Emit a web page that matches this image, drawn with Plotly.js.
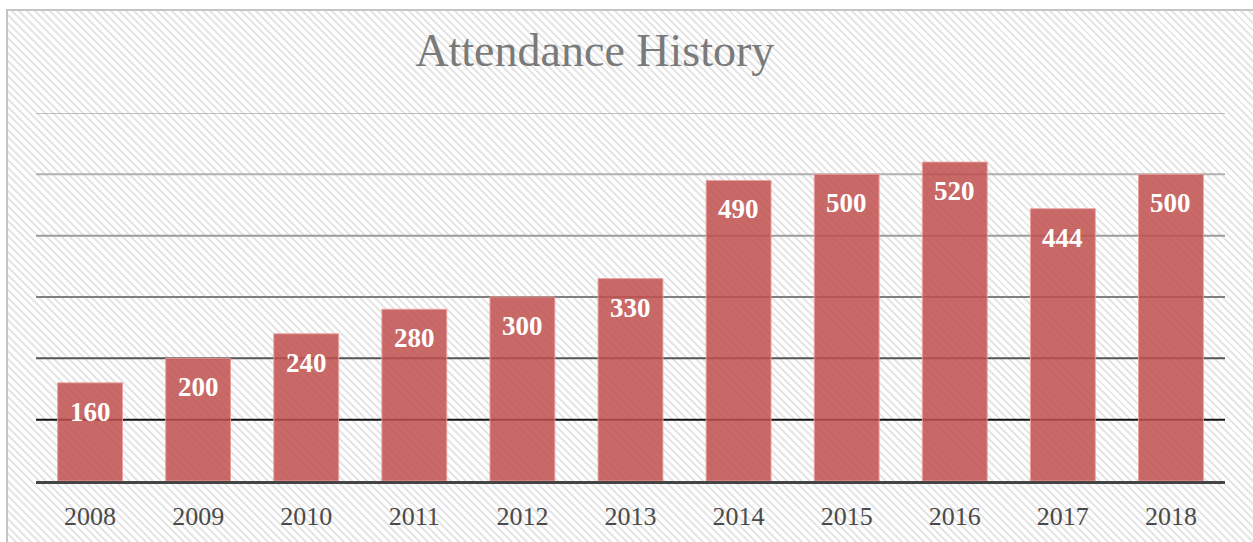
<!DOCTYPE html>
<html>
<head>
<meta charset="utf-8">
<script src="https://cdn.plot.ly/plotly-3.0.1.min.js"></script>
<style>
  html, body { margin: 0; padding: 0; background: #ffffff; overflow: hidden; }
  #bg {
    position: absolute; left: 6px; top: 9px; width: 1260px; height: 560px;
    border-left: 2px solid #c4c4c4; border-top: 2px solid #c4c4c4;
    background: repeating-linear-gradient(45deg, #ffffff 0px, #ffffff 3.3px, #e6e6e6 3.3px, #e6e6e6 5.4px);
  }
  #chart { position: absolute; left: 0; top: 0; width: 1253px; height: 542px; }
</style>
</head>
<body>
<div id="bg"></div>
<div id="chart"></div>
<script>
const years = ['2008','2009','2010','2011','2012','2013','2014','2015','2016','2017','2018'];
const attendance = [160, 200, 240, 280, 300, 330, 490, 500, 520, 444, 500];
const gridValues = [100, 200, 300, 400, 500, 600];
const gridColors = ['#151515', '#555555', '#808080', '#9c9c9c', '#b0b0b0', '#bdbdbd'];

const serif = 'Liberation Serif, DejaVu Serif, serif';

const trace = {
  type: 'bar',
  x: years,
  y: attendance,
  marker: { color: 'rgba(192,80,77,0.85)', line: { color: 'rgba(235,160,160,0.9)', width: 1 } },
  hoverinfo: 'none'
};

const shapes = gridValues.map((v, i) => ({
  type: 'line', xref: 'paper', yref: 'y', x0: 0, x1: 1, y0: v, y1: v,
  line: { color: gridColors[i], width: 2 }, layer: 'below'
}));

const annotations = years.map((yr, i) => ({
  x: i, y: attendance[i], xref: 'x', yref: 'y',
  text: '<b>' + attendance[i] + '</b>', showarrow: false,
  yanchor: 'middle', yshift: -29,
  font: { family: serif, size: 27, color: '#ffffff' }
}));

const layout = {
  width: 1253, height: 542,
  margin: { l: 36, r: 28, t: 113, b: 61 },
  paper_bgcolor: 'rgba(0,0,0,0)',
  plot_bgcolor: 'rgba(0,0,0,0)',
  title: {
    text: 'Attendance History',
    font: { family: serif, size: 46, color: '#7a7a7a' },
    xref: 'paper', x: 0.47, xanchor: 'center',
    yref: 'container', y: 0.908, yanchor: 'middle'
  },
  bargap: 0.4,
  showlegend: false,
  xaxis: {
    type: 'category',
    range: [-0.5, years.length - 0.5], autorange: false,
    showline: true, linecolor: '#454545', linewidth: 3,
    showgrid: false, ticks: '', zeroline: false,
    ticklabelstandoff: 10,
    tickfont: { family: serif, size: 26, color: '#4a4a4a' }
  },
  yaxis: {
    range: [0, 600], autorange: false, showgrid: false, showticklabels: false,
    zeroline: false, ticks: '', showline: false
  },
  shapes: shapes,
  annotations: annotations
};

Plotly.newPlot('chart', [trace], layout, { staticPlot: true, displayModeBar: false });
</script>
</body>
</html>
